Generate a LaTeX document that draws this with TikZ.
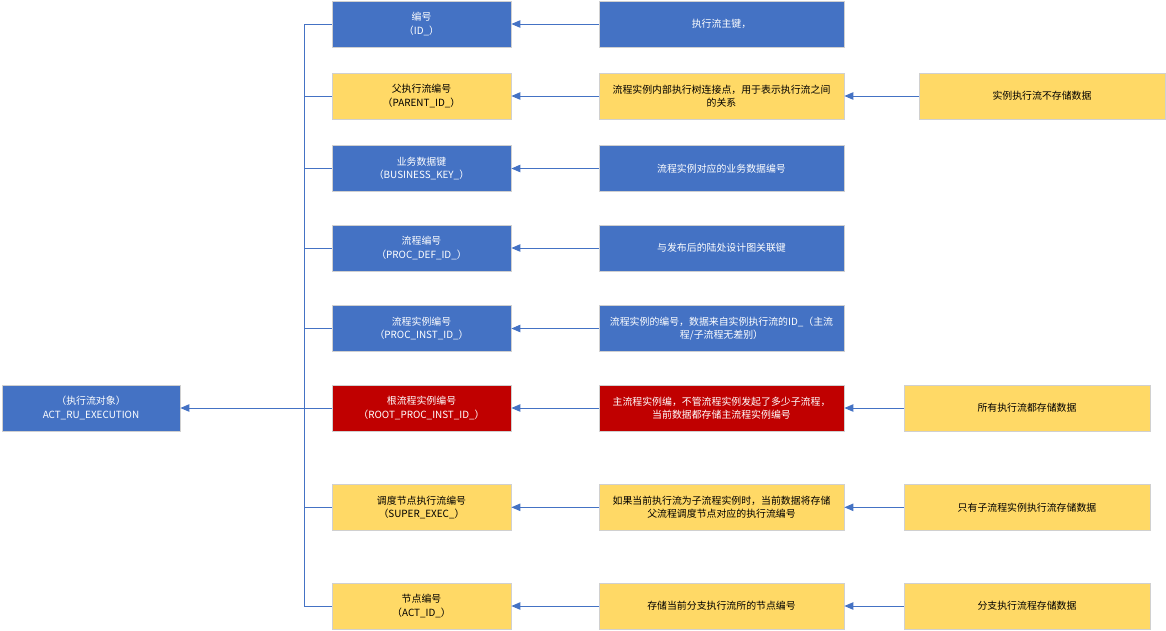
\documentclass[tikz,border=0pt]{standalone}
\usepackage{fontspec}
\setmainfont{Noto Sans CJK SC}
\usetikzlibrary{arrows.meta}
\definecolor{cblue}{HTML}{4472C4}
\definecolor{cyel}{HTML}{FFD966}
\definecolor{cred}{HTML}{C00000}
\definecolor{cline}{HTML}{4472C4}
\definecolor{cbord}{HTML}{D0D0D0}
\begin{document}
\begin{tikzpicture}[x=1pt,y=-1pt,
  box/.style={draw=cbord, line width=0.8pt, rectangle, inner sep=0pt, align=center,
    font=\fontsize{9.9}{13.5}\selectfont, minimum height=46pt},
  bluebox/.style={box, fill=cblue, text=white},
  redbox/.style={box, fill=cred, text=white},
  yelbox/.style={box, fill=cyel, text=black},
  colA/.style={minimum width=179pt},
  colB/.style={minimum width=245pt},
  colC/.style={minimum width=246pt},
  wire/.style={draw=cline, line width=0.9pt},
  link/.style={wire, -{Triangle[length=9pt,width=7.5pt]}}
]
\useasboundingbox (0,0) rectangle (1166,630);

% root
\node[bluebox, minimum width=178pt] (root) at (91,408) {（执行流对象）\\ACT\_RU\_EXECUTION};

% column 1
\node[bluebox, colA] (a1) at (421.5,24) {编号\\（ID\_）};
\node[yelbox, colA] (a2) at (421.5,96) {父执行流编号\\（PARENT\_ID\_）};
\node[bluebox, colA] (a3) at (421.5,168.5) {业务数据键\\（BUSINESS\_KEY\_）};
\node[bluebox, colA] (a4) at (421.5,248) {流程编号\\（PROC\_DEF\_ID\_）};
\node[bluebox, colA] (a5) at (421.5,328.5) {流程实例编号\\（PROC\_INST\_ID\_）};
\node[redbox, colA] (a6) at (421.5,408) {根流程实例编号\\（ROOT\_PROC\_INST\_ID\_）};
\node[yelbox, colA] (a7) at (421.5,507.3) {调度节点执行流编号\\（SUPER\_EXEC\_）};
\node[yelbox, colA] (a8) at (421.5,606) {节点编号\\（ACT\_ID\_）};

% column 2
\node[bluebox, colB] (b1) at (721.5,24) {执行流主键，};
\node[yelbox, colB] (b2) at (721.5,96) {流程实例内部执行树连接点，用于表示执行流之间\\的关系};
\node[bluebox, colB] (b3) at (721.5,168.5) {流程实例对应的业务数据编号};
\node[bluebox, colB] (b4) at (721.5,248) {与发布后的陆处设计图关联键};
\node[bluebox, colB] (b5) at (721.5,328.5) {流程实例的编号，数据来自实例执行流的ID\_（主流\\程/子流程无差别）};
\node[redbox, colB] (b6) at (721.5,408) {主流程实例编，不管流程实例发起了多少子流程，\\当前数据都存储主流程实例编号};
\node[yelbox, colB] (b7) at (721.5,507.3) {如果当前执行流为子流程实例时，当前数据将存储\\父流程调度节点对应的执行流编号};
\node[yelbox, colB] (b8) at (721.5,606) {存储当前分支执行流所的节点编号};

% column 3
\node[yelbox, colC] (c2) at (1042,96) {实例执行流不存储数据};
\node[yelbox, colC] (c6) at (1027,408) {所有执行流都存储数据};
\node[yelbox, colC] (c7) at (1027,507.3) {只有子流程实例执行流存储数据};
\node[yelbox, colC] (c8) at (1027,606) {分支执行流程存储数据};

% bus
\coordinate (bm) at (304,408);
\draw[wire] (a1.west -| bm) -- (a8.west -| bm);
\foreach \n in {a1,a2,a3,a4,a5,a6,a7,a8} {
  \draw[wire] (\n.west -| bm) -- (\n.west);
}
\draw[link] (bm) -- (root.east);

% arrows col2 -> col1
\foreach \i in {1,...,8} {
  \draw[link] (b\i.west) -- (a\i.east);
}
% arrows col3 -> col2
\foreach \i in {2,6,7,8} {
  \draw[link] (c\i.west) -- (b\i.east);
}
\end{tikzpicture}
\end{document}
